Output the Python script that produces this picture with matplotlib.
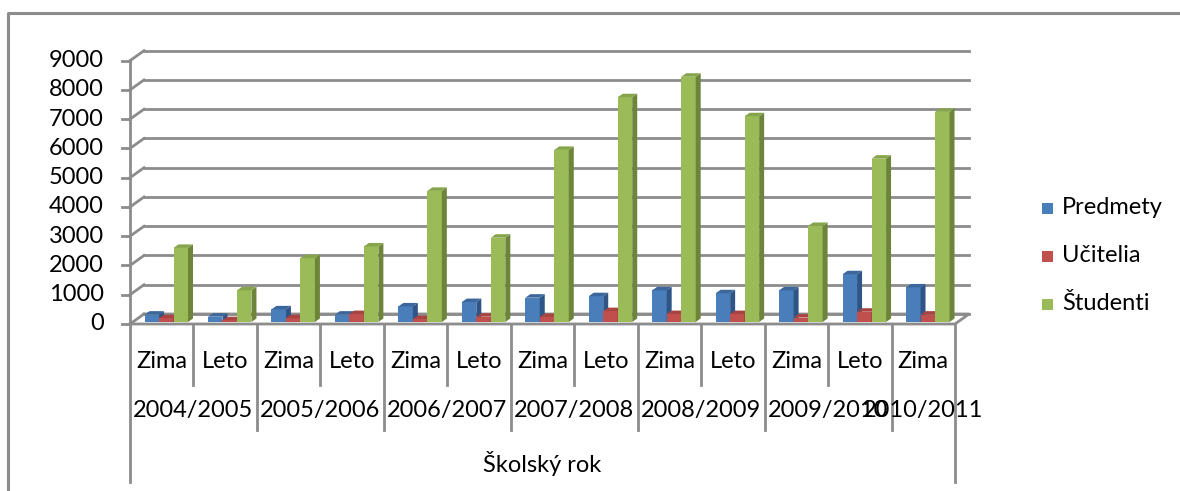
import matplotlib
matplotlib.use("Agg")
import matplotlib.pyplot as plt
import numpy as np

# data
semesters = ["Zima", "Leto", "Zima", "Leto", "Zima", "Leto", "Zima",
             "Leto", "Zima", "Leto", "Zima", "Leto", "Zima"]
years = ["2004/2005", "2005/2006", "2006/2007", "2007/2008",
         "2008/2009", "2009/2010", "2010/2011"]
predmety = [320, 250, 500, 320, 600, 750, 900, 950, 1150, 1050, 1150, 1700, 1250]
ucitelia = [200, 130, 200, 340, 170, 250, 240, 440, 340, 340, 220, 420, 320]
studenti = [2600, 1150, 2250, 2650, 4550, 2950, 5950, 7750, 8450, 7100, 3350, 5650, 7250]
series = [("Predmety", predmety, ("#4a7ebb", "#2e5586", "#3b679c")),
          ("Učitelia", ucitelia, ("#c0504d", "#8c3533", "#a84542")),
          ("Študenti", studenti, ("#9bbb59", "#6c853a", "#86a44a"))]
yticks = list(range(0, 9001, 1000))
axis_title = "Školský rok"

W, H = 1180, 491
X0, CW = 130.0, 63.46     # pixel of category 0, pixels per category
Y0, VS = 324.0, 29.26     # pixel row of value 0, pixels per 1000


def px(p):
    return (p - X0) / CW


def py(p):
    return (Y0 - p) / VS * 1000


def dx(p):
    return p / CW


def dy(p):
    return p / VS * 1000


plt.rcParams["font.family"] = ["Lato", "DejaVu Sans"]
FS = 17
fig = plt.figure(figsize=(W / 100, H / 100), dpi=100)
ax = fig.add_axes([0, 0, 1, 1])
ax.set_xlim(px(0), px(W))
ax.set_ylim(py(H), py(0))
ax.axis("off")

GRID = "#8c8c8c"
n = len(semesters)
fdx, fdy = dx(14), dy(10)

# back wall gridlines + left wall diagonals + ticks
for v in yticks:
    ax.plot([fdx, n + fdx], [v + fdy, v + fdy], color=GRID, lw=2, zorder=1)
    ax.plot([0, fdx], [v, v + fdy], color=GRID, lw=2, zorder=1)
    ax.plot([dx(-8), 0], [v, v], color=GRID, lw=2, zorder=1)
    ax.text(px(104), v, str(v), ha="right", va="center", fontsize=FS)
ax.plot([0, 0], [0, yticks[-1]], color=GRID, lw=2, zorder=1)

# floor
ax.plot([0, n, n + fdx, fdx], [0, 0, fdy, fdy], color=GRID, lw=2, zorder=1)

# 3d columns
bw = dx(14.5)
bdx, bdy = dx(5), dy(3.5)
base = dy(2)
offs = [dx(14.5), dx(29), dx(43.5)]
x = np.arange(n)
for i in range(n):
    for (name, vals, (cf, cs, ct)), off in zip(series, offs):
        x0 = x[i] + off
        x1 = x0 + bw
        top = vals[i]
        ax.bar(x0, top - base, width=bw, bottom=base, align="edge",
               color=cf, lw=0, zorder=3)
        ax.fill([x1, x1 + bdx, x1 + bdx, x1],
                [base, base + bdy, top + bdy, top], color=cs, lw=0, zorder=3)
        ax.fill([x0, x1, x1 + bdx, x0 + bdx],
                [top, top, top + bdy, top + bdy], color=ct, lw=0, zorder=3)

# category table below the floor
y_sem, y_year, y_bot = py(385), py(430), py(482)
for i in range(n + 1):
    if i == 0 or i == n:
        yb = y_bot
    elif i % 2 == 0:
        yb = y_year
    else:
        yb = y_sem
    ax.plot([i, i], [0, yb], color=GRID, lw=2, zorder=1)
for i, s in enumerate(semesters):
    ax.text(i + 0.5, py(361), s, ha="center", va="center", fontsize=FS)
for k, yr in enumerate(years):
    xc = min(2 * k + 1, n - 0.5)
    ax.text(xc, py(410), yr, ha="center", va="center", fontsize=FS)
ax.text(n / 2, py(463), axis_title, ha="center", va="center", fontsize=FS)

# legend
for j, (name, vals, (cf, cs, ct)) in enumerate(series):
    yc = py(208 + 48 * j)
    ax.add_patch(plt.Rectangle((px(1042), yc - dy(5.5)), dx(11), dy(11),
                               color=cf, lw=0))
    ax.text(px(1062), yc, name, ha="left", va="center", fontsize=FS)

# chart border
ax.plot([px(8), px(8), px(W)], [py(H), py(13), py(13)], color=GRID, lw=2.2)

fig.savefig("out.png", dpi=100)
